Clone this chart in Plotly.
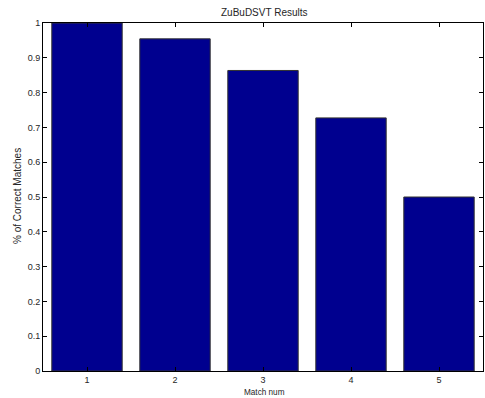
import plotly.graph_objects as go

match_num = [1, 2, 3, 4, 5]
pct_correct = [1.0, 0.9545, 0.8636, 0.7273, 0.5]
y_ticks = [0, 0.1, 0.2, 0.3, 0.4, 0.5, 0.6, 0.7, 0.8, 0.9, 1]
y_tick_labels = ["0", "0.1", "0.2", "0.3", "0.4", "0.5", "0.6", "0.7", "0.8", "0.9", "1"]

W, H = 485, 398
L, R, T, B = 43, 2, 23, 27

fig = go.Figure(go.Bar(
    x=match_num, y=pct_correct, width=0.8,
    marker=dict(color="#00008F", line=dict(color="#333333", width=1)),
))

TXT = "#262626"
font = dict(family="Liberation Sans, Arial, sans-serif", size=9, color=TXT)
pw, ph = W - L - R, H - T - B

def px_x(x):
    return (x - L) / pw

def px_y(y):
    return (H - B - y) / ph

fig.update_layout(
    width=W, height=H,
    margin=dict(l=L, r=R, t=T, b=B, autoexpand=False),
    paper_bgcolor="white", plot_bgcolor="white",
    font=font,
    showlegend=False,
    bargap=0.2,
    annotations=[
        dict(text="ZuBuDSVT Results", xref="paper", yref="paper",
             x=px_x(264), y=px_y(12), xanchor="center", yanchor="middle",
             showarrow=False, font=dict(size=10, color=TXT)),
        dict(text="Match num", xref="paper", yref="paper",
             x=px_x(264), y=px_y(392), xanchor="center", yanchor="middle",
             showarrow=False, font=dict(size=8.2, color=TXT)),
        dict(text="% of Correct Matches", xref="paper", yref="paper",
             x=px_x(17), y=px_y(196), xanchor="center", yanchor="middle",
             textangle=-90, showarrow=False, font=dict(size=10, color=TXT)),
    ],
)
fig.update_xaxes(
    range=[0.5, 5.5], tickvals=match_num, ticktext=[str(v) for v in match_num],
    ticks="inside", ticklen=4, tickcolor="black", mirror="ticks",
    showline=True, linecolor="black", linewidth=1, showgrid=False, zeroline=False,
    automargin=False, tickfont=dict(size=9, color=TXT),
)
fig.update_yaxes(
    range=[0, 1], tickvals=y_ticks, ticktext=y_tick_labels,
    ticks="inside", ticklen=4, tickcolor="black", mirror="ticks",
    showline=True, linecolor="black", linewidth=1, showgrid=False, zeroline=False,
    automargin=False, tickfont=dict(size=9, color=TXT),
)
fig.write_html("out.html", config={"displayModeBar": False},
               post_script="document.body.style.margin='0';document.body.style.padding='0';")
